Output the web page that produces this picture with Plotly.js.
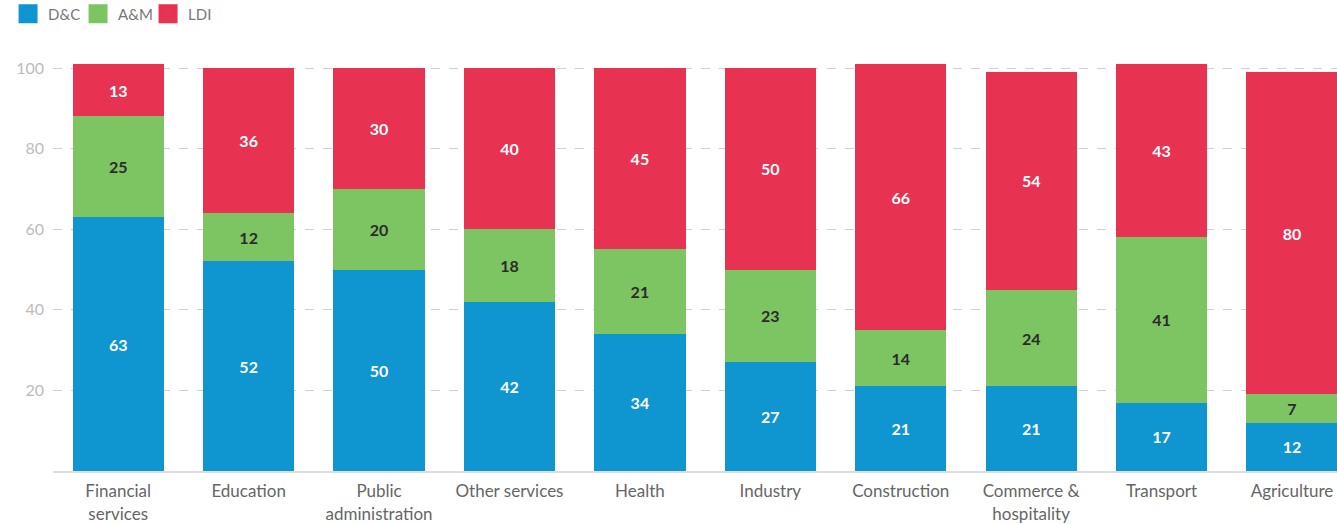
<!DOCTYPE html>
<html>
<head>
<meta charset="utf-8">
<script src="https://cdn.plot.ly/plotly-3.0.1.min.js"></script>
<style>html,body{margin:0;padding:0;background:#fff;}#chart{width:1337px;height:524px;}</style>
</head>
<body>
<div id="chart"></div>
<script>
const categories = ["Financial<br>services", "Education", "Public<br>administration", "Other services", "Health", "Industry", "Construction", "Commerce &<br>hospitality", "Transport", "Agriculture"];
const dc  = [63, 52, 50, 42, 34, 27, 21, 21, 17, 12];
const am  = [25, 12, 20, 18, 21, 23, 14, 24, 41, 7];
const ldi = [13, 36, 30, 40, 45, 50, 66, 54, 43, 80];
const seriesNames = ["D&C", "A&M", "LDI"];
const colors = ['#0f95d0', '#7dc462', '#e73252'];
const yTicks = [20, 40, 60, 80, 100];

function series(i, vals, textColor) {
  return {
    type: 'bar', name: seriesNames[i], x: categories, y: vals, showlegend: false,
    text: vals.map(String), textposition: 'inside', insidetextanchor: 'middle',
    textfont: {family: 'Lato, sans-serif', size: 16, color: textColor, weight: 'bold'},
    marker: {color: colors[i], line: {width: 0}},
    hoverinfo: 'x+y'
  };
}
function legendItem(i) {
  return {
    type: 'scatter', mode: 'markers', name: seriesNames[i], x: [categories[0]], y: [null],
    marker: {symbol: 'square', size: 16, color: colors[i], line: {width: 3, color: colors[i]}},
    showlegend: true, hoverinfo: 'skip'
  };
}

const data = [
  series(0, dc, '#ffffff'),
  series(1, am, '#2b2b2b'),
  series(2, ldi, '#ffffff'),
  legendItem(0), legendItem(1), legendItem(2)
];

const layout = {
  width: 1337, height: 524,
  margin: {l: 53, r: 0, t: 60, b: 53, autoexpand: false},
  barmode: 'stack', bargap: 0.3,
  paper_bgcolor: '#fff', plot_bgcolor: '#fff',
  showlegend: true,
  legend: {orientation: 'h', x: -0.035, xanchor: 'left', y: 1.152, yanchor: 'top',
           font: {family: 'Lato, sans-serif', size: 15, color: '#777'}, traceorder: 'normal',
           entrywidth: 25, entrywidthmode: 'pixels', itemsizing: 'trace'},
  xaxis: {
    range: [-0.5, 9.345], showgrid: false, zeroline: false,
    showline: true, linecolor: '#dddddd', linewidth: 2,
    ticks: '', ticklabelstandoff: 4,
    tickfont: {family: 'Lato, sans-serif', size: 17, color: '#666'},
    fixedrange: true
  },
  yaxis: {
    range: [0, 102], tickvals: yTicks, ticktext: yTicks.map(String),
    showgrid: true, gridcolor: '#d0d0d0', griddash: 'dash', gridwidth: 1,
    zeroline: false, showline: false, ticks: '',
    ticklabelstandoff: 8,
    tickfont: {family: 'Lato, sans-serif', size: 16, color: '#bbbbbb'},
    fixedrange: true
  }
};

Plotly.newPlot('chart', data, layout, {displayModeBar: false, staticPlot: true});
</script>
</body>
</html>
